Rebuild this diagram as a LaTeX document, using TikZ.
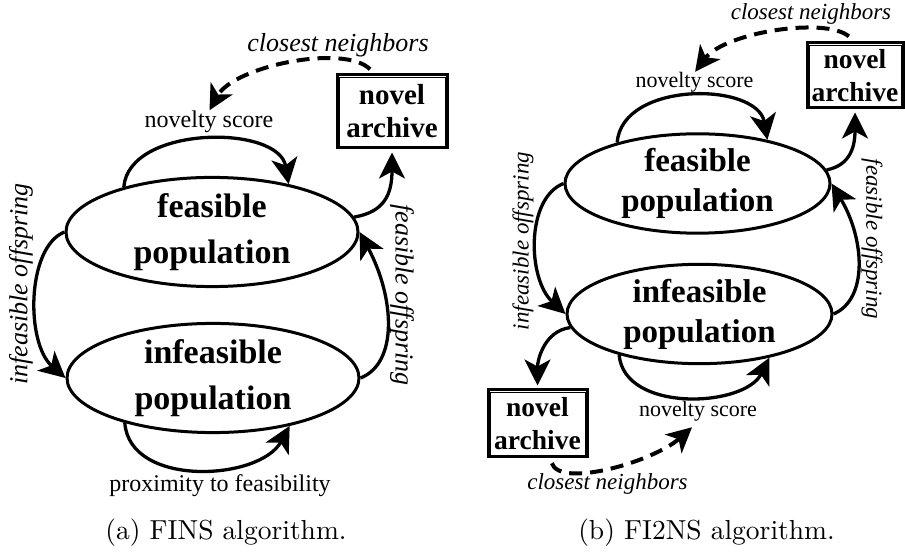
\documentclass[tikz,border=0pt]{standalone}
\usepackage{fontspec}
\newfontfamily\tms{Liberation Serif}
\newfontfamily\capfont[Extension=.otf]{lmroman10-regular}
\usetikzlibrary{shapes.geometric,arrows.meta,calc}
\tikzset{
  pop/.style={ellipse, draw, line width=3pt, inner sep=0pt, align=center},
  archive/.style={draw, line width=3pt, inner sep=0pt, align=center},
  arr/.style={line width=3.3pt, -{Stealth[length=26pt 0,width=26pt 0,inset=7pt 0]}},
  darr/.style={line width=4pt, dash pattern=on 13pt off 8pt, -{Stealth[length=25pt 0,width=25pt 0,inset=7pt 0]}},
  lbl/.style={inner sep=0pt},
  inner/.style={line width=0.5pt},
}
\begin{document}
\begin{tikzpicture}[x=1pt,y=1pt]
\useasboundingbox (0,0) rectangle (905,554);
% ---------------- (a) FINS ----------------
\node[pop, minimum width=292pt, minimum height=101pt, font={\tms\bfseries\fontsize{34}{46}\selectfont}] (F) at (212,322) {feasible\\population};
\node[pop, minimum width=292pt, minimum height=104pt, font={\tms\bfseries\fontsize{34}{46}\selectfont}] (I) at (213,176) {infeasible\\population};
\node[archive, minimum width=110pt, minimum height=73pt, font={\tms\bfseries\fontsize{29}{33}\selectfont}] (A) at (392,442.5) {novel\\archive};
\draw[inner] ([shift={(3.5,-3.5)}]A.north west) rectangle ([shift={(-3.5,3.5)}]A.south east);

\node[lbl, anchor=base, font={\tms\fontsize{24}{28}\selectfont}] (ns) at (209,426) {novelty score};
\node[lbl, anchor=base, font={\tms\itshape\fontsize{26}{30}\selectfont}] (cn) at (338,502) {closest neighbors};
\node[lbl, anchor=base, font={\tms\fontsize{24}{28}\selectfont}] (px) at (220,62) {proximity to feasibility};
\node[lbl, rotate=90, font={\tms\itshape\fontsize{26}{30}\selectfont}] (io) at (21,270) {infeasible offspring};
\node[lbl, rotate=-90, font={\tms\itshape\fontsize{26}{30}\selectfont}] (fo) at (402,259) {feasible offspring};
\node[lbl, anchor=base, font={\capfont\fontsize{27.5}{32}\selectfont}] (capa) at (226,14) {(a) FINS algorithm.};

\draw[arr] (F.153) .. controls +(5,62) and +(-10,60) .. (F.32);
\draw[darr, shorten <=6pt, shorten >=1pt] (A.115) .. controls +(-30,30) and +(25,45) .. (ns.north);
\draw[arr, shorten >=3pt] (F.6) .. controls +(30,5) and +(0,-45) .. (A.south);
\draw[arr] (I.east) .. controls +(38,15) and +(35,-65) .. (F.east);
\draw[arr] (F.west) .. controls +(-38,-15) and +(-40,35) .. (I.west);
\draw[arr] (I.207) .. controls +(5,-65) and +(-30,-55) .. (I.-32);

% ---------------- (b) FI2NS ----------------
\node[pop, minimum width=265pt, minimum height=93pt, font={\tms\bfseries\fontsize{33}{40}\selectfont}] (F2) at (697.5,370.5) {feasible\\population};
\node[pop, minimum width=265pt, minimum height=92pt, font={\tms\bfseries\fontsize{33}{40}\selectfont}] (I2) at (699.5,240) {infeasible\\population};
\node[archive, minimum width=96pt, minimum height=65pt, font={\tms\bfseries\fontsize{27.5}{33}\selectfont}] (A2) at (855,478.5) {novel\\archive};
\draw[inner] ([shift={(3.5,-3.5)}]A2.north west) rectangle ([shift={(-3.5,3.5)}]A2.south east);
\node[archive, minimum width=99pt, minimum height=67pt, font={\tms\bfseries\fontsize{27.5}{33}\selectfont}] (B2) at (537.5,130.5) {novel\\archive};
\draw[inner] ([shift={(3.5,-3.5)}]B2.north west) rectangle ([shift={(-3.5,3.5)}]B2.south east);

\node[lbl, anchor=base, font={\tms\itshape\fontsize{23}{28}\selectfont}] (cn2) at (811,534) {closest neighbors};
\node[lbl, anchor=base, font={\tms\fontsize{22}{26}\selectfont}] (ns2) at (694.5,466) {novelty score};
\node[lbl, rotate=-90, font={\tms\itshape\fontsize{23}{28}\selectfont}] (fo2) at (872,315) {feasible offspring};
\node[lbl, rotate=90, font={\tms\itshape\fontsize{23}{28}\selectfont}] (io2) at (523,313) {infeasible offspring};
\node[lbl, anchor=base, font={\tms\fontsize{22}{26}\selectfont}] (ns3) at (698,137) {novelty score};
\node[lbl, anchor=base, font={\tms\itshape\fontsize{23}{28}\selectfont}] (cn3) at (607.5,64) {closest neighbors};
\node[lbl, anchor=base, font={\capfont\fontsize{27.5}{32}\selectfont}] (capb) at (706.5,14) {(b) FI2NS algorithm.};

\draw[arr] (F2.153) .. controls +(5,62) and +(-10,58) .. (F2.32);
\draw[darr, shorten <=8pt, shorten >=1pt] (A2.north) .. controls +(-30,25) and +(30,40) .. (ns2.north);
\draw[arr, shorten >=3pt] (F2.6) .. controls +(25,5) and +(0,-35) .. (A2.south);
\draw[arr] (I2.east) .. controls +(35,15) and +(33,-55) .. (F2.east);
\draw[arr] (F2.west) .. controls +(-38,-15) and +(-38,35) .. (I2.west);
\draw[arr, shorten >=3pt] (I2.186) .. controls +(-25,-3) and +(0,30) .. (B2.north);
\draw[arr] (I2.207) .. controls +(5,-58) and +(-25,-50) .. (I2.-32);
\draw[darr, shorten <=5pt, shorten >=8pt] (B2.-70) .. controls +(10,-30) and +(-45,-40) .. (ns3.south);
\end{tikzpicture}
\end{document}
